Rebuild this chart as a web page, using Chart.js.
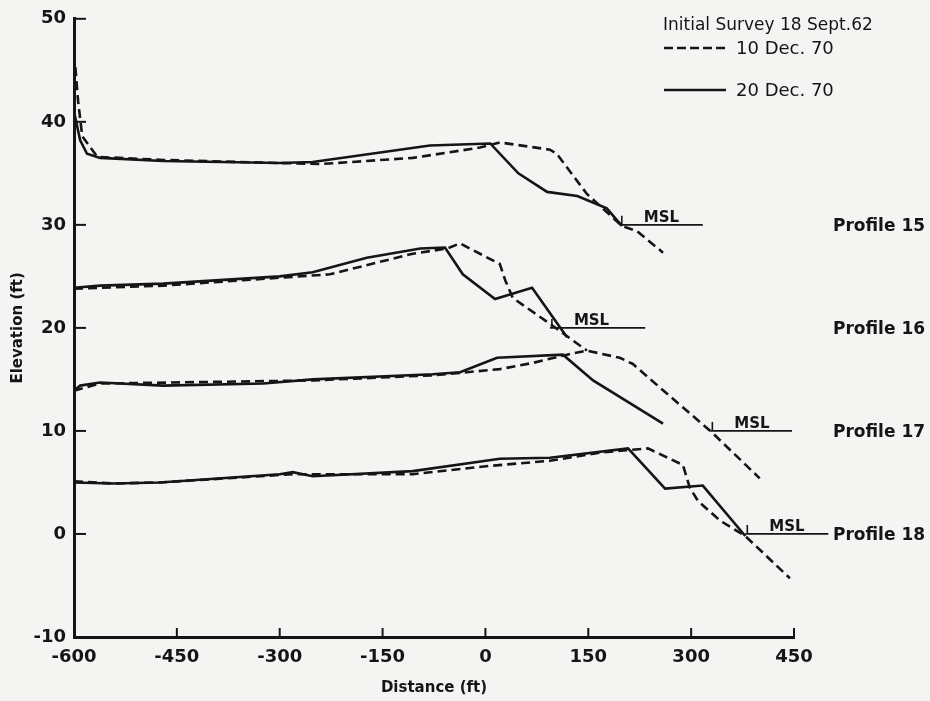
<!DOCTYPE html>
<html>
<head>
<meta charset="utf-8">
<script src="https://cdn.jsdelivr.net/npm/chart.js@4.4.0/dist/chart.umd.min.js"></script>
<style>
  body { margin: 0; background: #f4f4f2; }
  #wrap { width: 930px; height: 701px; }
</style>
</head>
<body>
<div id="wrap"><canvas id="chart" width="930" height="701"></canvas></div>
<script>
// Profile 15
const p15Dist20 = [-600, -591, -581, -562, -470, -300, -252, -81, 7, 48, 90, 134, 177, 199]
const p15Elev20 = [41.0, 38.2, 36.9, 36.5, 36.2, 36.0, 36.1, 37.7, 37.9, 35.0, 33.2, 32.8, 31.6, 29.9]
const p15Dist10 = [-598, -594, -588, -566, -470, -241, -106, -8, 21, 94, 104, 148, 199, 221, 259]
const p15Elev10 = [45.3, 42.0, 38.6, 36.6, 36.3, 35.9, 36.5, 37.5, 38.0, 37.3, 36.9, 33.0, 29.9, 29.4, 27.3]

// Profile 16
const p16Dist20 = [-600, -562, -470, -300, -252, -173, -95, -59, -33, 14, 68, 119]
const p16Elev20 = [23.9, 24.1, 24.3, 25.0, 25.4, 26.8, 27.7, 27.8, 25.2, 22.8, 23.9, 19.1]
const p16Dist10 = [-600, -470, -227, -106, -56, -37, 21, 29, 40, 94, 148]
const p16Elev10 = [23.8, 24.1, 25.2, 27.2, 27.7, 28.2, 26.2, 24.6, 22.9, 20.4, 17.8]

// Profile 17
const p17Dist20 = [-600, -591, -562, -470, -324, -252, -77, -37, 17, 113, 157, 259]
const p17Elev20 = [13.9, 14.4, 14.7, 14.4, 14.6, 15.0, 15.5, 15.7, 17.1, 17.4, 14.9, 10.7]
const p17Dist10 = [-600, -562, -252, -77, -27, 21, 69, 119, 148, 196, 215, 265, 328, 400]
const p17Elev10 = [13.9, 14.6, 14.9, 15.4, 15.7, 16.0, 16.6, 17.4, 17.8, 17.1, 16.5, 13.6, 10.0, 5.4]

// Profile 18
const p18Dist20 = [-600, -543, -475, -300, -281, -252, -106, 21, 94, 208, 262, 317, 379]
const p18Elev20 = [5.0, 4.9, 5.0, 5.8, 6.0, 5.6, 6.1, 7.3, 7.4, 8.3, 4.4, 4.7, -0.2]
const p18Dist10 = [-600, -543, -475, -281, -106, 5, 94, 167, 201, 237, 288, 298, 310, 342, 379, 444]
const p18Elev10 = [5.1, 4.9, 5.0, 5.8, 5.8, 6.6, 7.1, 7.9, 8.1, 8.3, 6.7, 4.5, 3.2, 1.3, -0.2, -4.3]

// Mean sea level marks, one per profile
const profileNames = ["Profile 15", "Profile 16", "Profile 17", "Profile 18"]
const mslElev = [30, 20, 10, 0]
const mslStart = [196, 94, 328, 379]
const mslEnd = [317, 233, 447, 500]

const legendTitle = "Initial Survey 18 Sept.62"
const label10 = "10 Dec. 70"
const label20 = "20 Dec. 70"

const ink = "#151515"
const font = "DejaVu Sans"

function pts(xs, ys) {
    return xs.map((x, i) => ({ x: x, y: ys[i] }))
}

function profileLine(label, xs, ys, dashed) {
    return {
        label: label,
        data: pts(xs, ys),
        borderColor: ink,
        borderWidth: 2.6,
        borderDash: dashed ? [9, 5] : [],
        pointRadius: 0,
        tension: 0,
        fill: false
    }
}

const datasets = [
    profileLine(label10, p15Dist10, p15Elev10, true),
    profileLine(label20, p15Dist20, p15Elev20, false),
    profileLine(label10, p16Dist10, p16Elev10, true),
    profileLine(label20, p16Dist20, p16Elev20, false),
    profileLine(label10, p17Dist10, p17Elev10, true),
    profileLine(label20, p17Dist20, p17Elev20, false),
    profileLine(label10, p18Dist10, p18Elev10, true),
    profileLine(label20, p18Dist20, p18Elev20, false)
]

// MSL lines
for (let i = 0; i < mslElev.length; i++) {
    datasets.push({
        label: "MSL",
        data: [{ x: mslStart[i], y: mslElev[i] }, { x: mslEnd[i], y: mslElev[i] }],
        borderColor: ink,
        borderWidth: 1.8,
        pointRadius: 0,
        clip: false
    })
}

// Paper background
const paper = {
    id: "paper",
    beforeDraw(chart) {
        const ctx = chart.ctx
        ctx.save()
        ctx.fillStyle = "#f4f4f2"
        ctx.fillRect(0, 0, chart.width, chart.height)
        ctx.restore()
    }
}

// Inward ticks, MSL labels, profile names and the legend
const annotations = {
    id: "annotations",
    afterDraw(chart) {
        const ctx = chart.ctx
        const xs = chart.scales.x
        const ys = chart.scales.y
        const area = chart.chartArea
        ctx.save()
        ctx.strokeStyle = ink
        ctx.fillStyle = ink
        ctx.lineWidth = 2

        // ticks pointing into the plot
        for (const t of ys.ticks) {
            const y = ys.getPixelForValue(t.value)
            ctx.beginPath()
            ctx.moveTo(area.left, y)
            ctx.lineTo(area.left + 12, y)
            ctx.stroke()
        }
        for (const t of xs.ticks) {
            const x = xs.getPixelForValue(t.value)
            ctx.beginPath()
            ctx.moveTo(x, area.bottom)
            ctx.lineTo(x, area.bottom - 9)
            ctx.stroke()
        }

        // MSL labels and profile names
        ctx.textAlign = "left"
        for (let i = 0; i < mslElev.length; i++) {
            const x0 = xs.getPixelForValue(mslStart[i])
            const y = ys.getPixelForValue(mslElev[i])
            ctx.lineWidth = 1.6
            ctx.beginPath()
            ctx.moveTo(x0 + 2, y - 9)
            ctx.lineTo(x0 + 2, y)
            ctx.stroke()
            ctx.font = "bold 15px '" + font + "'"
            ctx.textBaseline = "alphabetic"
            ctx.fillText("MSL", x0 + 24, y - 3)
            ctx.font = "bold 17px '" + font + "'"
            ctx.textBaseline = "middle"
            ctx.fillText(profileNames[i], area.right + 39, y + 2)
        }

        // legend
        const lx = area.right - 131
        ctx.font = "17px '" + font + "'"
        ctx.textBaseline = "middle"
        ctx.fillText(legendTitle, lx, 26)
        ctx.lineWidth = 2.6
        ctx.setLineDash([9, 4])
        ctx.beginPath()
        ctx.moveTo(lx + 1, 48)
        ctx.lineTo(lx + 63, 48)
        ctx.stroke()
        ctx.setLineDash([])
        ctx.beginPath()
        ctx.moveTo(lx + 1, 90)
        ctx.lineTo(lx + 63, 90)
        ctx.stroke()
        ctx.font = "18px '" + font + "'"
        ctx.fillText(label10, lx + 73, 49)
        ctx.fillText(label20, lx + 73, 91)
        ctx.restore()
    }
}

new Chart(document.getElementById("chart"), {
    type: "line",
    data: { datasets },
    options: {
        responsive: false,
        animation: false,
        layout: { padding: { left: 0, top: 18, right: 136, bottom: 0 } },
        plugins: {
            legend: { display: false },
            tooltip: { enabled: false }
        },
        scales: {
            x: {
                type: "linear",
                min: -600,
                max: 450,
                ticks: { stepSize: 150, color: ink, padding: 10, font: { family: font, size: 18, weight: "bold" } },
                grid: { display: false, drawTicks: false },
                border: { display: true, color: ink, width: 3 },
                title: { display: true, text: "Distance (ft)", color: ink, padding: { top: 0, bottom: 4 }, font: { family: font, size: 15, weight: "bold" } },
                afterFit(scale) { scale.height = 64 }
            },
            y: {
                min: -10,
                max: 50,
                ticks: { stepSize: 10, color: ink, padding: 8, font: { family: font, size: 18, weight: "bold" } },
                grid: { display: false, drawTicks: false },
                border: { display: true, color: ink, width: 3 },
                title: { display: true, text: "Elevation (ft)", color: ink, padding: { top: 9, bottom: 0 }, font: { family: font, size: 15, weight: "bold" } },
                afterFit(scale) { scale.width = 74 }
            }
        }
    },
    plugins: [paper, annotations]
})
</script>
</body>
</html>
